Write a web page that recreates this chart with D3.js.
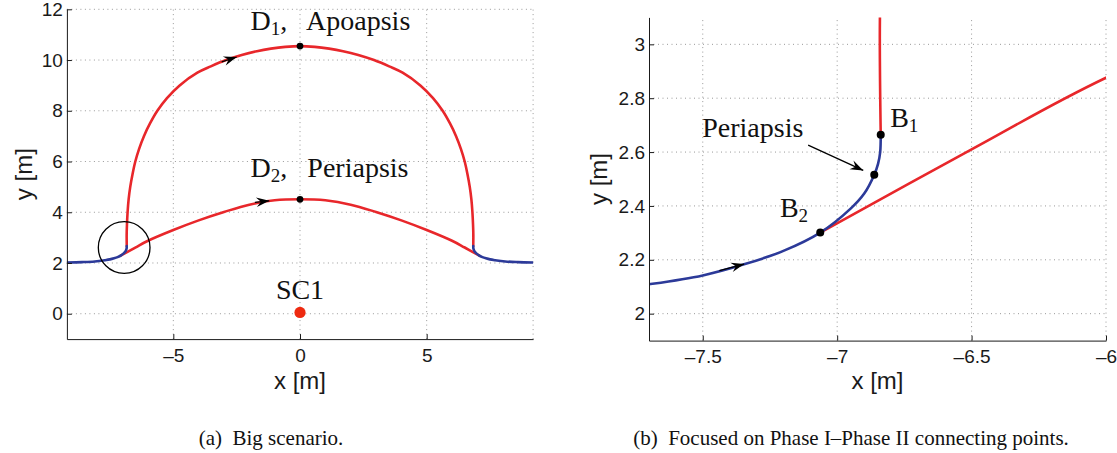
<!DOCTYPE html>
<html>
<head>
<meta charset="utf-8">
<script src="https://cdn.jsdelivr.net/npm/d3@7"></script>
<style>
  body { margin: 0; background: #fff; }
  svg { display: block; background: #fff; }
  .tick text { font-family: 'Liberation Sans', Arial, sans-serif; font-size: 19px; fill: #1a1a1a; }
  .tick line, .domain { stroke: #1a1a1a; }
  .ax-label { font-family: 'Liberation Sans', Arial, sans-serif; font-size: 24px; fill: #1a1a1a; }
  .note { font-family: 'Liberation Serif', 'Times New Roman', serif; font-size: 28px; fill: #111; }
  .caption { font-family: 'Liberation Serif', 'Times New Roman', serif; font-size: 21px; fill: #111; }
  .grid { stroke: #999; stroke-width: 1; stroke-dasharray: 1 3.5; }
</style>
</head>
<body>
<svg id="chart" width="1117" height="453"></svg>
<script>
const RED = '#e8272b';
const BLUE = '#2c3a99';

// Phase I, incoming branch (blue), [x, y] in metres
const approachIn = [
  [-9.2, 2.02], [-8.6, 2.035], [-8.1, 2.06], [-7.7, 2.109], [-7.5, 2.142],
  [-7.34, 2.185], [-7.2, 2.233], [-7.063, 2.301], [-6.95, 2.39], [-6.9, 2.445],
  [-6.862, 2.516], [-6.848, 2.556], [-6.84, 2.6], [-6.838, 2.664]
];
// Phase I, outgoing branch (blue)
const approachOut = [
  [6.838, 2.664], [6.84, 2.6], [6.848, 2.556], [6.862, 2.516], [6.9, 2.445],
  [6.95, 2.39], [7.063, 2.301], [7.2, 2.233], [7.34, 2.185], [7.5, 2.142],
  [7.7, 2.109], [8.1, 2.06], [8.6, 2.035], [9.2, 2.02]
];
// Phase II, transfer through the apoapsis D1 (red)
const transferHigh = [
  [-6.838, 2.664], [-6.841, 3.1], [-6.83, 3.5], [-6.805, 4.0], [-6.765, 4.5],
  [-6.70, 5.0], [-6.61, 5.5], [-6.50, 6.0], [-6.35, 6.5], [-6.16, 7.0],
  [-5.92, 7.5], [-5.63, 8.0], [-5.25, 8.5], [-4.75, 9.0], [-4.05, 9.5],
  [-3.52, 9.75], [-2.92, 10.0], [-2.3, 10.2], [-1.7, 10.35], [-1.15, 10.45],
  [-0.58, 10.52], [0, 10.55],
  [0.58, 10.52], [1.15, 10.45], [1.7, 10.35], [2.3, 10.2], [2.92, 10.0],
  [3.52, 9.75], [4.05, 9.5], [4.75, 9.0], [5.25, 8.5], [5.63, 8.0],
  [5.92, 7.5], [6.16, 7.0], [6.35, 6.5], [6.50, 6.0], [6.61, 5.5],
  [6.70, 5.0], [6.765, 4.5], [6.805, 4.0], [6.83, 3.5], [6.841, 3.1],
  [6.838, 2.664]
];
// Phase II, transfer through the periapsis D2 (red)
const transferLow = [
  [-7.063, 2.301], [-6.5, 2.61], [-6.0, 2.876], [-5.0, 3.3], [-4.0, 3.68],
  [-3.0, 4.01], [-2.0, 4.3], [-1.0, 4.47], [0, 4.51], [1.0, 4.47],
  [2.0, 4.3], [3.0, 4.01], [4.0, 3.68], [5.0, 3.3], [6.0, 2.876],
  [6.5, 2.61], [7.063, 2.301]
];

const dotsA = [[0, 10.55], [0, 4.51]];          // D1, D2
const sc1 = [[0, 0.05]];
const dotsB = [[-6.838, 2.664], [-6.862, 2.516], [-7.063, 2.301]]; // B1, periapsis, B2

const xTicksA = [-5, 0, 5];
const xTickLabelsA = ['\u20135', '0', '5'];
const yTicksA = [0, 2, 4, 6, 8, 10, 12];
const yTickLabelsA = ['0', '2', '4', '6', '8', '10', '12'];
const xTicksB = [-7.5, -7, -6.5, -6];
const xTickLabelsB = ['\u20137.5', '\u20137', '\u20136.5', '\u20136'];
const yTicksB = [2, 2.2, 2.4, 2.6, 2.8, 3];
const yTickLabelsB = ['2', '2.2', '2.4', '2.6', '2.8', '3'];

// direction arrows along the paths: [tail, tip]
const arrowsA = [[[-3.09, 9.93], [-2.5, 10.12]], [[-1.78, 4.39], [-1.21, 4.45]]];
const arrowsB = [[[-7.438, 2.16], [-7.346, 2.184]]];
const pointerB = [[-7.108, 2.626], [-6.903, 2.532]];

const notesA = [
  { base: 'D', sub: '1', tail: ',', x: -1.95, y: 11.18 },
  { base: 'Apoapsis', x: 0.24, y: 11.18 },
  { base: 'D', sub: '2', tail: ',', x: -1.95, y: 5.38 },
  { base: 'Periapsis', x: 0.29, y: 5.38 },
  { base: 'SC1', x: 0, y: 0.58, anchor: 'middle' }
];
const notesB = [
  { base: 'B', sub: '1', x: -6.803, y: 2.692 },
  { base: 'B', sub: '2', x: -7.213, y: 2.36 },
  { base: 'Periapsis', x: -7.502, y: 2.657 }
];
const zoomCircle = { x: -6.94, y: 2.61, r: 1.02 };

const captions = ['(a)  Big scenario.', '(b)  Focused on Phase I\u2013Phase II connecting points.'];

const svg = d3.select('#chart');

function addNote(g, x, y, n) {
  const t = g.append('text').attr('class', 'note')
    .attr('x', x(n.x)).attr('y', y(n.y))
    .attr('text-anchor', n.anchor || 'start');
  t.append('tspan').text(n.base);
  if (n.sub) t.append('tspan').attr('font-size', 19).attr('dy', 5).text(n.sub);
  if (n.tail) t.append('tspan').attr('dy', -5).text(n.tail);
}

function addArrow(g, x, y, tail, tip, shaft) {
  const x0 = x(tail[0]), y0 = y(tail[1]), x1 = x(tip[0]), y1 = y(tip[1]);
  const ang = Math.atan2(y1 - y0, x1 - x0) * 180 / Math.PI;
  if (shaft) {
    g.append('line').attr('x1', x0).attr('y1', y0).attr('x2', x1).attr('y2', y1)
      .attr('stroke', '#000').attr('stroke-width', 1.3);
  }
  g.append('path')
    .attr('d', 'M0,0 L-13,-4.8 L-8.5,0 L-13,4.8 Z')
    .attr('transform', `translate(${x1},${y1}) rotate(${ang})`)
    .attr('fill', '#000');
}

function drawPanel(p) {
  const x = d3.scaleLinear().domain(p.xDomain).range(p.xRange);
  const y = d3.scaleLinear().domain(p.yDomain).range(p.yRange);
  const g = svg.append('g');

  svg.append('clipPath').attr('id', 'clip-' + p.id)
    .append('rect')
    .attr('x', p.xRange[0]).attr('y', p.yRange[1])
    .attr('width', p.xRange[1] - p.xRange[0])
    .attr('height', p.yRange[0] - p.yRange[1]);

  // dotted grid
  g.append('g').selectAll('line').data(p.xGrid).join('line')
    .attr('class', 'grid')
    .attr('x1', d => x(d)).attr('x2', d => x(d))
    .attr('y1', p.yRange[0]).attr('y2', p.yRange[1]);
  g.append('g').selectAll('line').data(p.yTicks).join('line')
    .attr('class', 'grid')
    .attr('y1', d => y(d)).attr('y2', d => y(d))
    .attr('x1', p.xRange[0]).attr('x2', p.xRange[1]);

  const line = d3.line()
    .x(d => x(d[0])).y(d => y(d[1]))
    .curve(d3.curveCatmullRom.alpha(0.5));

  const paths = g.append('g').attr('clip-path', `url(#clip-${p.id})`)
    .attr('fill', 'none').attr('stroke-width', 2.6)
    .attr('stroke-linecap', 'round').attr('stroke-linejoin', 'round');
  paths.selectAll('path.red').data([transferHigh, transferLow]).join('path')
    .attr('class', 'red').attr('stroke', RED).attr('d', line);
  paths.selectAll('path.blue').data([approachIn, approachOut]).join('path')
    .attr('class', 'blue').attr('stroke', BLUE).attr('d', line);

  // axes (ticks pointing inwards)
  g.append('g').attr('transform', `translate(0,${p.yRange[0]})`)
    .call(d3.axisBottom(x).tickValues(p.xTicks)
      .tickFormat((d, i) => p.xTickLabels[i])
      .tickSizeInner(-5).tickSizeOuter(0).tickPadding(9));
  g.append('g').attr('transform', `translate(${p.xRange[0]},0)`)
    .call(d3.axisLeft(y).tickValues(p.yTicks)
      .tickFormat((d, i) => p.yTickLabels[i])
      .tickSizeInner(-5).tickSizeOuter(0).tickPadding(4));

  g.append('text').attr('class', 'ax-label')
    .attr('x', (p.xRange[0] + p.xRange[1]) / 2).attr('y', 389)
    .attr('text-anchor', 'middle').text('x [m]');
  g.append('text').attr('class', 'ax-label')
    .attr('transform', `translate(${p.yLabelX},${(p.yRange[0] + p.yRange[1]) / 2}) rotate(-90)`)
    .attr('text-anchor', 'middle').text('y [m]');

  g.append('text').attr('class', 'caption')
    .attr('x', p.captionX).attr('y', 445)
    .attr('text-anchor', 'middle').attr('xml:space', 'preserve')
    .text(p.caption);

  return { g, x, y };
}

// (a) big scenario
const a = drawPanel({
  id: 'a', xDomain: [-9.2, 9.2], yDomain: [-1, 12],
  xRange: [66.9, 533.1], yRange: [339.1, 9.3],
  xTicks: xTicksA, xTickLabels: xTickLabelsA, xGrid: xTicksA.concat([9.2]),
  yTicks: yTicksA, yTickLabels: yTickLabelsA,
  yLabelX: 32, captionX: 271, caption: captions[0]
});

a.g.append('circle')
  .attr('cx', a.x(zoomCircle.x)).attr('cy', a.y(zoomCircle.y))
  .attr('r', a.x(zoomCircle.x + zoomCircle.r) - a.x(zoomCircle.x))
  .attr('fill', 'none').attr('stroke', '#000').attr('stroke-width', 1.3);

a.g.selectAll('circle.dot').data(dotsA).join('circle')
  .attr('class', 'dot')
  .attr('cx', d => a.x(d[0])).attr('cy', d => a.y(d[1])).attr('r', 3.4).attr('fill', '#000');
a.g.selectAll('circle.sc').data(sc1).join('circle')
  .attr('class', 'sc')
  .attr('cx', d => a.x(d[0])).attr('cy', d => a.y(d[1])).attr('r', 5.6).attr('fill', '#ee2a10');

arrowsA.forEach(([t, h]) => addArrow(a.g, a.x, a.y, t, h, true));
notesA.forEach(n => addNote(a.g, a.x, a.y, n));

// (b) zoom on the connecting points
const b = drawPanel({
  id: 'b', xDomain: [-7.7, -6], yDomain: [1.9, 3.1],
  xRange: [649, 1106], yRange: [340.6, 17.4],
  xTicks: xTicksB, xTickLabels: xTickLabelsB, xGrid: xTicksB,
  yTicks: yTicksB, yTickLabels: yTickLabelsB,
  yLabelX: 607, captionX: 851, caption: captions[1]
});

b.g.selectAll('circle.dot').data(dotsB).join('circle')
  .attr('class', 'dot')
  .attr('cx', d => b.x(d[0])).attr('cy', d => b.y(d[1])).attr('r', 4).attr('fill', '#000');

arrowsB.forEach(([t, h]) => addArrow(b.g, b.x, b.y, t, h, true));
addArrow(b.g, b.x, b.y, pointerB[0], pointerB[1], true);
notesB.forEach(n => addNote(b.g, b.x, b.y, n));
</script>
</body>
</html>
